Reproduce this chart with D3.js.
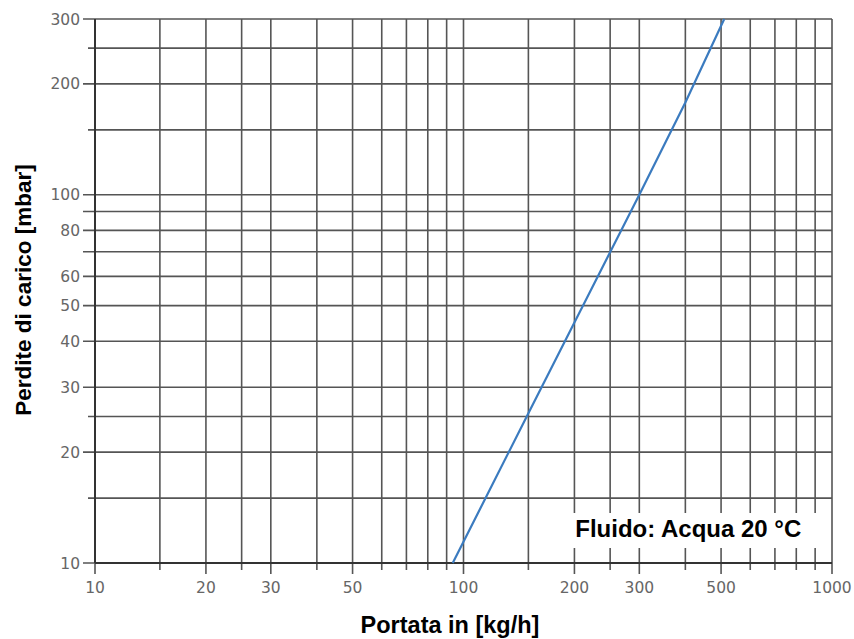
<!DOCTYPE html>
<html>
<head>
<meta charset="utf-8">
<script src="https://cdn.jsdelivr.net/npm/d3@7"></script>
<style>
  body { margin: 0; background: #fff; }
  svg { display: block; font-family: "Liberation Sans", Arial, sans-serif; }
</style>
</head>
<body>
<svg id="chart" width="854" height="639"></svg>
<script>
// curve
const flow = [93.5, 150, 200, 300, 400, 510];
const loss = [10, 25.5, 45, 100, 178, 300];

const xGrid = [10, 15, 20, 25, 30, 40, 50, 60, 70, 80, 90, 100, 150, 200, 250, 300, 400, 500, 600, 700, 800, 900, 1000];
const xLabels = [10, 20, 30, 50, 100, 200, 300, 500, 1000];
const yGrid = [10, 15, 20, 25, 30, 40, 50, 60, 70, 80, 90, 100, 150, 200, 250, 300];
const yLabels = [10, 20, 30, 40, 50, 60, 80, 100, 200, 300];

(function lossChart() {
  const svg = d3.select("#chart");
  const margin = { top: 19, right: 22, bottom: 76, left: 95 };
  const width = +svg.attr("width") - margin.left - margin.right;
  const height = +svg.attr("height") - margin.top - margin.bottom;

  const g = svg.append("g")
    .attr("transform", `translate(${margin.left},${margin.top})`);

  const x = d3.scaleLog().domain([10, 1000]).range([0, width]);
  const y = d3.scaleLog().domain([10, 300]).range([height, 0]);

  const gridColor = "#555";

  // vertical grid + ticks below
  g.selectAll(".vgrid")
    .data(xGrid)
    .join("line")
    .attr("x1", d => x(d)).attr("x2", d => x(d))
    .attr("y1", 0)
    .attr("y2", d => height + (xLabels.includes(d) ? 11 : 7))
    .attr("stroke", gridColor)
    .attr("stroke-width", 1.6);

  // horizontal grid + ticks left
  g.selectAll(".hgrid")
    .data(yGrid)
    .join("line")
    .attr("y1", d => y(d)).attr("y2", d => y(d))
    .attr("x1", d => (yLabels.includes(d) || d === 90 || d === 70) ? -12 : -7)
    .attr("x2", width)
    .attr("stroke", gridColor)
    .attr("stroke-width", 1.6);

  // axis lines a little heavier
  g.append("line")
    .attr("x1", 0).attr("x2", 0).attr("y1", 0).attr("y2", height)
    .attr("stroke", "#333").attr("stroke-width", 2);
  g.append("line")
    .attr("x1", 0).attr("x2", width).attr("y1", height).attr("y2", height)
    .attr("stroke", "#333").attr("stroke-width", 2);

  // tick labels
  g.selectAll(".xlab")
    .data(xLabels)
    .join("text")
    .attr("x", d => x(d))
    .attr("y", height + 30)
    .attr("text-anchor", "middle")
    .style("font-family", "'DejaVu Sans', Verdana, sans-serif")
    .style("font-size", "15.5px")
    .style("fill", "#666")
    .text(d => d);

  g.selectAll(".ylab")
    .data(yLabels)
    .join("text")
    .attr("x", -15)
    .attr("y", d => y(d) + 5.5)
    .attr("text-anchor", "end")
    .style("font-family", "'DejaVu Sans', Verdana, sans-serif")
    .style("font-size", "15.5px")
    .style("fill", "#666")
    .text(d => d);

  // note box covers the grid
  const note = g.append("g").attr("transform", `translate(${x(190)},${y(10) - 50})`);
  note.append("rect")
    .attr("x", 0).attr("y", 0)
    .attr("width", x(960) - x(190)).attr("height", 35)
    .attr("fill", "#fff");
  note.append("text")
    .attr("x", 9).attr("y", 24)
    .style("font-size", "24px")
    .style("font-weight", "bold")
    .style("fill", "#000")
    .text("Fluido: Acqua 20 °C");

  // curve
  const line = d3.line()
    .x(d => x(d[0]))
    .y(d => y(d[1]));

  g.append("path")
    .datum(flow.map((f, i) => [f, loss[i]]))
    .attr("d", line)
    .attr("fill", "none")
    .attr("stroke", "#3b7bbf")
    .attr("stroke-width", 2.2);

  // axis titles
  svg.append("text")
    .attr("x", 450)
    .attr("y", 633)
    .attr("text-anchor", "middle")
    .style("font-size", "23.5px")
    .style("font-weight", "bold")
    .text("Portata in [kg/h]");

  svg.append("text")
    .attr("transform", `translate(31,290) rotate(-90)`)
    .attr("text-anchor", "middle")
    .style("font-size", "22.5px")
    .style("font-weight", "bold")
    .text("Perdite di carico [mbar]");
})();
</script>
</body>
</html>
